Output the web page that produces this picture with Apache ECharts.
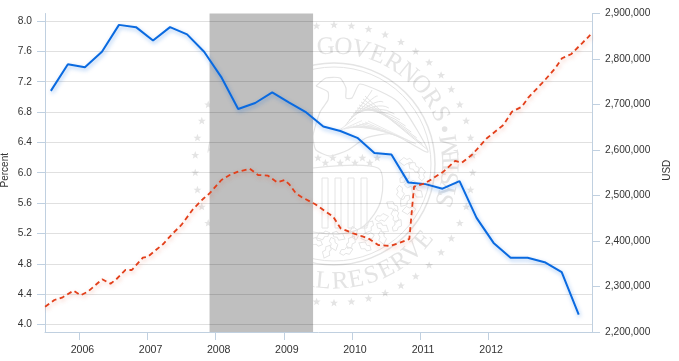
<!DOCTYPE html>
<html>
<head>
	<meta charset="UTF-8">
	<title>Percent and USD</title>
	<style>
		html, body { margin: 0; padding: 0; background: #fff; }
		#main { width: 679px; height: 361px; }
	</style>
</head>
<body>
	<div id="main"></div>
	<script src="https://cdn.jsdelivr.net/npm/echarts@6/dist/echarts.min.js"></script>
	<script type="text/javascript">
		// x values are decimal years
		var yearTicks = [2006, 2007, 2008, 2009, 2010, 2011, 2012];
		var percentTicks = [4.0, 4.4, 4.8, 5.2, 5.6, 6.0, 6.4, 6.8, 7.2, 7.6, 8.0];
		var recession = [2007.91, 2009.43];

		var percentYears = [2005.58, 2005.83, 2006.08, 2006.33, 2006.58, 2006.83, 2007.08, 2007.33,
			2007.58, 2007.83, 2008.08, 2008.33, 2008.58, 2008.83, 2009.08, 2009.33,
			2009.58, 2009.83, 2010.08, 2010.33, 2010.58, 2010.83, 2011.08, 2011.33,
			2011.58, 2011.83, 2012.08, 2012.33, 2012.58, 2012.83, 2013.08, 2013.33];
		var percentValues = [7.08, 7.43, 7.39, 7.595, 7.95, 7.92, 7.745, 7.92,
			7.825, 7.595, 7.265, 6.84, 6.92, 7.06, 6.925, 6.795,
			6.61, 6.55, 6.46, 6.26, 6.24, 5.87, 5.85, 5.79,
			5.89, 5.405, 5.075, 4.88, 4.88, 4.82, 4.69, 4.13];

		var usdYears = [2005.496, 2005.632, 2005.754, 2005.912, 2006.015, 2006.122, 2006.334, 2006.456,
			2006.540, 2006.676, 2006.769, 2006.931, 2007.004, 2007.225, 2007.372, 2007.496,
			2007.666, 2007.813, 2007.912, 2008.084, 2008.206, 2008.328, 2008.500, 2008.622,
			2008.769, 2008.901, 2009.015, 2009.088, 2009.176, 2009.260, 2009.456, 2009.725,
			2009.834, 2010.019, 2010.166, 2010.240, 2010.387, 2010.559, 2010.706, 2010.843,
			2010.912, 2011.074, 2011.343, 2011.515, 2011.613, 2011.760, 2011.981, 2012.225,
			2012.349, 2012.496, 2012.593, 2012.813, 2012.985, 2013.084, 2013.216, 2013.378, 2013.500];
		var usdValues = [2255600, 2270300, 2276300, 2290800, 2280700, 2288600, 2315800, 2306200,
			2315800, 2336300, 2336300, 2363300, 2365500, 2392800, 2416900, 2435200,
			2469700, 2492300, 2504900, 2534100, 2545100, 2552300, 2558900, 2545100,
			2543500, 2529000, 2534100, 2523100, 2504900, 2496700, 2481300, 2453400,
			2427900, 2416900, 2409500, 2405900, 2391200, 2389000, 2396300, 2404400,
			2519400, 2526800, 2552300, 2575900, 2572100, 2589000, 2625800, 2655000,
			2684200, 2695200, 2715900, 2750200, 2779600, 2801600, 2810400, 2834500, 2852800];

		function pairs(xs, ys) {
			return xs.map(function (x, i) { return [x, ys[i]]; });
		}

		var textColor = '#333';
		var axisColor = '#C0D0E0';
		var sealColor = '#e4e4e4';
		var font = '"Liberation Sans", Arial, sans-serif';

		// background seal, decoration only
		var sealX = 334, sealY = 164;
		var seal = [];
		var starPoints = [[0, -4.2], [1.1, -1.3], [4, -1.3], [1.7, .5], [2.5, 3.4], [0, 1.7], [-2.5, 3.4], [-1.7, .5], [-4, -1.3], [-1.1, -1.3]];
		var leafPoints = [[0, -7], [3, -4], [2, -1], [4, 2], [0, 7], [-4, 2], [-2, -1], [-3, -4]];

		function onCircle(deg, r) {
			var a = deg * Math.PI / 180;
			return [sealX + r * Math.sin(a), sealY - r * Math.cos(a)];
		}
		function sealStroke(w) {
			return { fill: 'none', stroke: sealColor, lineWidth: w };
		}
		function addShape(type, shape, style, extra) {
			var el = { type: type, z: -1, silent: true, shape: shape, style: style };
			if (extra) {
				el.x = extra.x;
				el.y = extra.y;
				el.rotation = extra.rotation || 0;
			}
			seal.push(el);
		}
		function letter(ch, deg, r, flip) {
			var p = onCircle(deg, r);
			seal.push({
				type: 'text', x: p[0], y: p[1], z: -1, silent: true,
				rotation: -(flip ? deg + 180 : deg) * Math.PI / 180,
				style: { text: ch, fill: sealColor, font: '25px "Liberation Serif", serif', align: 'center', verticalAlign: 'middle' }
			});
		}
		function arcWord(word, startDeg, step, r, flip) {
			word.split('').forEach(function (ch, i) {
				letter(ch, startDeg + i * step, r, flip);
			});
		}

		addShape('circle', { cx: sealX, cy: sealY, r: 101 }, sealStroke(1.5));
		addShape('circle', { cx: sealX, cy: sealY, r: 97 }, sealStroke(1));

		for (var s = 0; s < 50; s++) {
			var sp = onCircle(s * 7.2, 139);
			addShape('polygon', { points: starPoints }, { fill: sealColor }, { x: sp[0], y: sp[1] });
		}

		arcWord('BOARD OF GOVERNORS', -81.4, 8.6, 117, false);
		var dotP = onCircle(72.5, 116);
		addShape('circle', { cx: dotP[0], cy: dotP[1], r: 2.8 }, { fill: sealColor });
		arcWord('FEDERAL', 232, -7.8, 118, true);
		arcWord('RESERVE', 177, -7.8, 118, true);
		arcWord('SYSTEM', 108, -5.4, 118, true);

		// eagle: right wing feathers, body and head
		for (var f = 0; f < 11; f++) {
			addShape('bezierCurve', {
				x1: 345 + f * 2, y1: 126 - f * 3,
				cpx1: 372 + f * 2, cpy1: 92 + f * 3,
				x2: 372 + f * 5.6, y2: 90 + f * 6
			}, sealStroke(1));
			addShape('line', { x1: 338 + f * 3, y1: 131 - f, x2: 356 + f * 6, y2: 118 + f * 2.6 }, sealStroke(.8));
		}
		addShape('polyline', {
			points: [[316, 86], [326, 78], [340, 78], [346, 88], [346, 98], [352, 98], [360, 84], [398, 102], [428, 152], [392, 134], [366, 138], [348, 150], [330, 156], [316, 150], [313, 136], [320, 112], [328, 100], [328, 92], [316, 86]],
			smooth: 0.2
		}, sealStroke(1.2));

		// shield with bars
		addShape('polyline', { points: [[313, 168], [378, 168], [381, 200], [364, 226], [340, 234], [313, 232]], smooth: 0.3 }, sealStroke(1.2));
		[322, 335, 348, 361].forEach(function (bx) {
			addShape('rect', { x: bx, y: 178, width: 6, height: 50 }, sealStroke(1));
		});
		for (var t = 0; t < 9; t++) {
			addShape('polygon', { points: starPoints }, { fill: sealColor }, { x: 318 + t * 7.4, y: 158 + (t % 2) * 5 });
		}

		// oak wreath, leaves along the inside of the ring
		for (var w = 0; w < 34; w++) {
			var deg = 88 + w * 4.2;
			var lp = onCircle(deg, 72 + (w % 3) * 8);
			addShape('polygon', { points: leafPoints }, sealStroke(.9), { x: lp[0], y: lp[1], rotation: -(deg + w * 40) * Math.PI / 180 });
		}

		var myChart = echarts.init(document.getElementById('main'), null, { renderer: 'canvas' });
		var option = {
			animation: false,
			backgroundColor: '#fff',
			textStyle: { fontFamily: font },
			graphic: { elements: seal },
			grid: { left: 45, right: 87, top: 13.5, bottom: 29, outerBoundsMode: 'none' },
			xAxis: {
				type: 'value',
				min: 2005.494,
				max: 2013.525,
				z: 3,
				splitLine: { show: false },
				axisLine: { lineStyle: { color: axisColor, width: 1 } },
				axisTick: { show: true, length: 8, lineStyle: { color: axisColor }, customValues: yearTicks },
				axisLabel: {
					customValues: yearTicks, color: textColor, fontSize: 10.6, margin: 13,
					padding: [0, 0, 0, 6],
					formatter: function (v) { return String(v); }
				}
			},
			yAxis: [{
				type: 'value',
				min: 3.9,
				max: 8.1,
				z: 3,
				name: 'Percent',
				nameLocation: 'middle',
				nameRotate: 90,
				nameGap: 35,
				nameMoveOverlap: false,
				nameTextStyle: { color: textColor, fontSize: 10, padding: [0, 0, 0, 5] },
				splitLine: { show: true, lineStyle: { color: 'rgba(0,0,0,0.12)', width: 1 } },
				axisLine: { show: true, lineStyle: { color: axisColor, width: 1 } },
				axisTick: { show: true, length: 8, lineStyle: { color: axisColor }, customValues: percentTicks },
				axisLabel: {
					customValues: percentTicks, color: textColor, fontSize: 10.2, margin: 13,
					formatter: function (v) { return v.toFixed(1); }
				}
			}, {
				type: 'value',
				min: 2200000,
				max: 2900000,
				interval: 100000,
				position: 'right',
				z: 3,
				name: 'USD',
				nameLocation: 'middle',
				nameRotate: 90,
				nameGap: 70,
				nameMoveOverlap: false,
				nameTextStyle: { color: textColor, fontSize: 10, padding: [0, 0, 0, 5] },
				splitLine: { show: false },
				axisLine: { show: true, lineStyle: { color: axisColor, width: 1 } },
				axisTick: { show: true, length: 8, lineStyle: { color: axisColor } },
				axisLabel: {
					color: textColor, fontSize: 10.2, margin: 13,
					formatter: function (v) { return String(v).replace(/\B(?=(\d{3})+$)/g, ','); }
				}
			}],
			series: [{
				name: 'Percent',
				type: 'line',
				z: 5,
				yAxisIndex: 0,
				showSymbol: false,
				silent: true,
				data: pairs(percentYears, percentValues),
				lineStyle: { color: '#0a6ae0', width: 2, shadowColor: 'rgba(10,106,224,0.4)', shadowBlur: 4, shadowOffsetX: 1, shadowOffsetY: 2 },
				markArea: {
					silent: true,
					z: 1,
					itemStyle: { color: '#bfbfbf' },
					data: [[{ xAxis: recession[0] }, { xAxis: recession[1] }]]
				}
			}, {
				name: 'USD',
				type: 'line',
				z: 5,
				yAxisIndex: 1,
				showSymbol: false,
				silent: true,
				data: pairs(usdYears, usdValues),
				lineStyle: { color: '#e23f1a', width: 1.8, type: [5, 3.5], shadowColor: 'rgba(226,63,26,0.35)', shadowBlur: 4, shadowOffsetX: 1, shadowOffsetY: 2 }
			}]
		};
		myChart.setOption(option);
	</script>
</body>
</html>
